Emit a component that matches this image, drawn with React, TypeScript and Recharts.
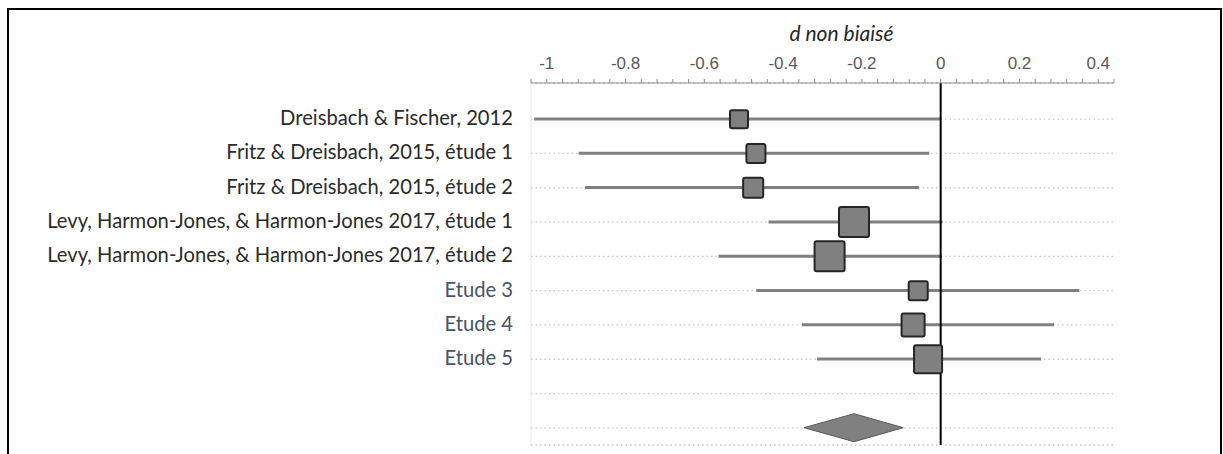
import React from 'react';
import {
  ComposedChart,
  Bar,
  Scatter,
  XAxis,
  YAxis,
  CartesianGrid,
  ReferenceLine,
} from 'recharts';

// ---- Data ----
const studies = [
  'Dreisbach & Fischer, 2012',
  'Fritz & Dreisbach, 2015, étude 1',
  'Fritz & Dreisbach, 2015, étude 2',
  'Levy, Harmon-Jones, & Harmon-Jones 2017, étude 1',
  'Levy, Harmon-Jones, & Harmon-Jones 2017, étude 2',
  'Etude 3',
  'Etude 4',
  'Etude 5',
];
const estimates = [-0.512, -0.469, -0.476, -0.22, -0.282, -0.057, -0.07, -0.032];
const lowers = [-1.032, -0.919, -0.903, -0.437, -0.564, -0.468, -0.352, -0.314];
const uppers = [0.0, -0.029, -0.055, 0.005, 0.003, 0.352, 0.288, 0.255];
const weights = [7.1, 7.9, 8.8, 19.7, 19.7, 7.9, 11.6, 17.2];

const pooledEstimate = -0.22;
const pooledLower = -0.347;
const pooledUpper = -0.095;

const majorTicks = [-1, -0.8, -0.6, -0.4, -0.2, 0, 0.2, 0.4];
const majorTickLabels = ['-1', '-0.8', '-0.6', '-0.4', '-0.2', '0', '0.2', '0.4'];
const minorTicks = [
  -1.04, -1.0, -0.96, -0.92, -0.88, -0.84, -0.8, -0.76, -0.72, -0.68, -0.64, -0.6,
  -0.56, -0.52, -0.48, -0.44, -0.4, -0.36, -0.32, -0.28, -0.24, -0.2, -0.16, -0.12,
  -0.08, -0.04, 0, 0.04, 0.08, 0.12, 0.16, 0.2, 0.24, 0.28, 0.32, 0.36, 0.4, 0.44,
];
const xDomain = [-1.04, 0.44];
const axisTitle = 'd non biaisé';

// ---- Table built from the arrays ----
const rows = [
  ...studies.map((name, i) => ({
    name,
    est: estimates[i],
    range: [lowers[i], uppers[i]],
    weight: weights[i],
    kind: 'study',
  })),
  { name: ' ', est: null, range: null, weight: null, kind: 'blank' },
  { name: '  ', est: null, range: [pooledLower, pooledUpper], pooled: pooledEstimate, weight: null, kind: 'pooled' },
];

const formatTick = (v: number) => {
  const idx = majorTicks.findIndex((m) => Math.abs(m - v) < 1e-9);
  return idx >= 0 ? majorTickLabels[idx] : '';
};

const RangeShape = (props: any) => {
  const { x, y, width, height, payload } = props;
  if (x == null || width == null) return null;
  const cy = y + height / 2;
  if (payload.kind === 'pooled') {
    const half = 14;
    const left = x;
    const right = x + width;
    const mid = left + (width * (payload.pooled - payload.range[0])) / (payload.range[1] - payload.range[0]);
    return (
      <polygon
        points={`${left},${cy} ${mid},${cy - half} ${right},${cy} ${mid},${cy + half}`}
        fill="#808080"
        stroke="#5a5a5a"
        strokeWidth={1}
      />
    );
  }
  return <line x1={x} x2={x + width} y1={cy} y2={cy} stroke="#808080" strokeWidth={3} />;
};

const SquareShape = (props: any) => {
  const { cx, cy, payload } = props;
  if (cx == null || cy == null || payload.weight == null) return null;
  const s = 6.76 * Math.sqrt(payload.weight);
  return (
    <rect
      x={cx - s / 2}
      y={cy - s / 2}
      width={s}
      height={s}
      rx={2}
      ry={2}
      fill="#808080"
      stroke="#262626"
      strokeWidth={2}
    />
  );
};

const StudyTick = (props: any) => {
  const { x, y, payload } = props;
  const v: string = payload.value;
  const color = v.startsWith('Etude') ? '#44546A' : '#2b2b2b';
  return (
    <text
      x={x}
      y={y}
      dy={6}
      textAnchor="end"
      fill={color}
      fontFamily="Lato, 'Noto Sans', sans-serif"
      fontSize={20.2}
    >
      {v}
    </text>
  );
};

const TitleLabel = (props: any) => {
  const vb = props.viewBox || {};
  return (
    <text
      x={(vb.x ?? 531) + (vb.width ?? 582) / 2 + 19}
      y={41}
      textAnchor="middle"
      fill="#262626"
      fontFamily="Lato, 'Noto Sans', sans-serif"
      fontStyle="italic"
      fontSize={21}
    >
      {axisTitle}
    </text>
  );
};

export default function App() {
  return (
    <div style={{ position: 'absolute', left: 0, top: 0, width: 1223, height: 454, overflow: 'hidden', background: '#fff' }}>
      <div
        style={{
          position: 'absolute',
          left: 7,
          top: 8,
          width: 1211,
          height: 470,
          borderTop: '2.5px solid #000',
          borderLeft: '2.5px solid #000',
          borderRight: '2.5px solid #000',
        }}
      />
      <div style={{ position: 'absolute', left: 0, top: 0 }}>
        <ComposedChart
          width={1223}
          height={454}
          data={rows}
          layout="vertical"
          margin={{ top: 0, right: 109, bottom: 9, left: 0 }}
        >
          <CartesianGrid
            horizontal={true}
            vertical={false}
            stroke="#c8c8c8"
            strokeDasharray="1.5 3"
            strokeWidth={1.3}
          />
          <XAxis
            type="number"
            orientation="top"
            domain={xDomain}
            ticks={minorTicks}
            interval={0}
            allowDataOverflow
            height={83}
            tickSize={4}
            tickMargin={10}
            tickFormatter={formatTick}
            axisLine={{ stroke: '#8c8c8c', strokeWidth: 1 }}
            tickLine={{ stroke: '#8c8c8c' }}
            tick={{ fill: '#595959', fontSize: 17, fontFamily: "'Liberation Sans', Arial, sans-serif" }}
            label={<TitleLabel />}
          />
          <YAxis
            type="category"
            dataKey="name"
            width={531}
            padding={{ top: 19, bottom: 0 }}
            tickSize={0}
            tickMargin={18}
            tickLine={false}
            axisLine={{ stroke: '#e6e6e6' }}
            tick={<StudyTick />}
            interval={0}
          />
          <Bar dataKey="range" barSize={28} shape={<RangeShape />} isAnimationActive={false} />
          <ReferenceLine x={0} stroke="#000" strokeWidth={2} />
          <Scatter dataKey="est" shape={<SquareShape />} isAnimationActive={false} />
        </ComposedChart>
      </div>
    </div>
  );
}
